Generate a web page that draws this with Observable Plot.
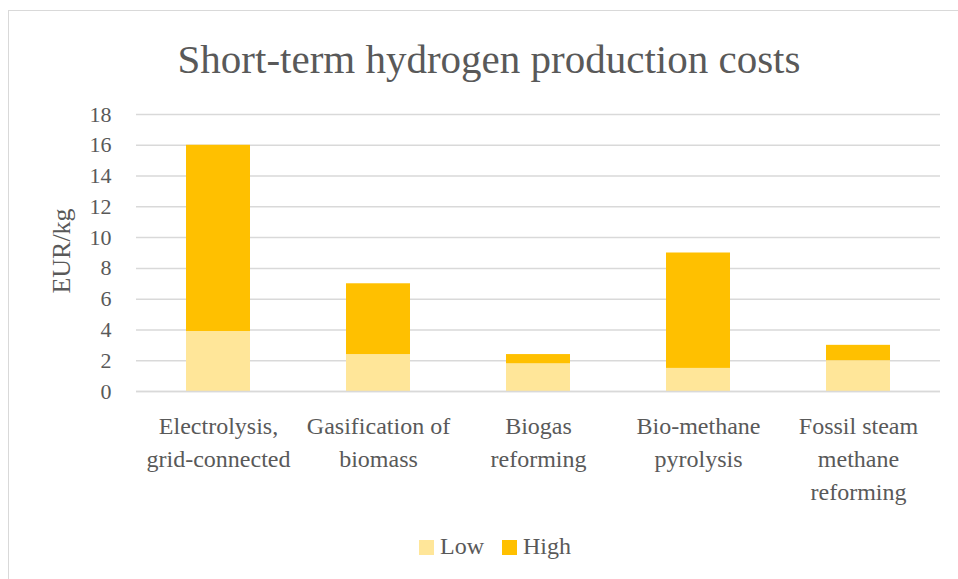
<!DOCTYPE html>
<html>
<head>
<meta charset="utf-8">
<script src="https://cdn.jsdelivr.net/npm/d3@7"></script>
<script src="https://cdn.jsdelivr.net/npm/@observablehq/plot@0.6"></script>
<style>
  html, body { margin: 0; padding: 0; background: #fff; }
  #wrap { position: relative; width: 958px; height: 579px; overflow: hidden; font-family: "Liberation Serif", serif; color: #595959; }
  #frame { position: absolute; left: 8px; top: 10px; width: 960px; height: 580px; border: 1px solid #d9d9d9; box-sizing: border-box; }
  #title { position: absolute; left: 0; top: 35px; width: 978px; text-align: center; font-size: 41px; line-height: 48px; color: #595959; }
  #chart { position: absolute; left: 0; top: 90px; }
  #chart svg, #chart svg text { font-family: "Liberation Serif", serif !important; }
  #ylabel { position: absolute; left: 62px; top: 251px; transform: translate(-50%, -50%) rotate(-90deg); font-size: 26px; white-space: nowrap; color: #595959; }
  #legend { position: absolute; left: 0; top: 531px; width: 990px; text-align: center; font-size: 24px; line-height: 30px; color: #595959; }
  .sw { display: inline-block; width: 15px; height: 15px; margin-right: 6px; vertical-align: -1px; }
  .item { display: inline-block; margin: 0 9px; }
</style>
</head>
<body>
<div id="wrap">
  <div id="frame"></div>
  <div id="title">Short-term hydrogen production costs</div>
  <div id="chart"></div>
  <div id="ylabel">EUR/kg</div>
  <div id="legend"></div>
</div>
<script>
const categories = ["Electrolysis, grid-connected", "Gasification of biomass", "Biogas reforming", "Bio-methane pyrolysis", "Fossil steam methane reforming"];
const tickLabels = ["Electrolysis,\ngrid-connected", "Gasification of\nbiomass", "Biogas\nreforming", "Bio-methane\npyrolysis", "Fossil steam\nmethane\nreforming"];
const lowValues = [3.9, 2.4, 1.8, 1.5, 2.0];
const highValues = [16, 7, 2.4, 9, 3];
const seriesNames = ["Low", "High"];
const seriesColors = ["#FFE699", "#FFC000"];
const yTicks = [0, 2, 4, 6, 8, 10, 12, 14, 16, 18];

const rows = categories.map((c, i) => ({cat: c, low: lowValues[i], high: highValues[i]}));
const labelOf = new Map(categories.map((c, i) => [c, tickLabels[i]]));
const serif = "Liberation Serif";

const plot = Plot.plot({
  width: 958,
  height: 420,
  marginTop: 24,
  marginBottom: 119,
  marginLeft: 136,
  marginRight: 18,
  style: {fontFamily: serif, fontSize: "21px", color: "#595959", background: "transparent"},
  x: {domain: categories, paddingInner: 0.6, paddingOuter: 0.3, align: 0.5},
  y: {domain: [0, 18]},
  marks: [
    Plot.gridY(yTicks, {stroke: "#d9d9d9", strokeOpacity: 1, strokeWidth: 1.5}),
    Plot.barY(rows, {x: "cat", y1: 0, y2: "low", fill: seriesColors[0]}),
    Plot.barY(rows, {x: "cat", y1: "low", y2: "high", fill: seriesColors[1]}),
    Plot.ruleY([0], {stroke: "#d9d9d9", strokeWidth: 1.5}),
    Plot.axisY({ticks: yTicks, tickSize: 0, tickPadding: 25, fontSize: 22, fontFamily: serif, fill: "#595959", label: null}),
    Plot.axisX({tickSize: 0, tickPadding: 19, fontSize: 24, fontFamily: serif, fill: "#595959", lineHeight: 1.38,
      tickFormat: d => labelOf.get(d), label: null})
  ]
});
document.getElementById("chart").appendChild(plot);

const legend = document.getElementById("legend");
seriesNames.forEach((n, i) => {
  const s = document.createElement("span");
  s.className = "item";
  s.innerHTML = `<span class="sw" style="background:${seriesColors[i]}"></span>${n}`;
  legend.appendChild(s);
});
</script>
</body>
</html>
